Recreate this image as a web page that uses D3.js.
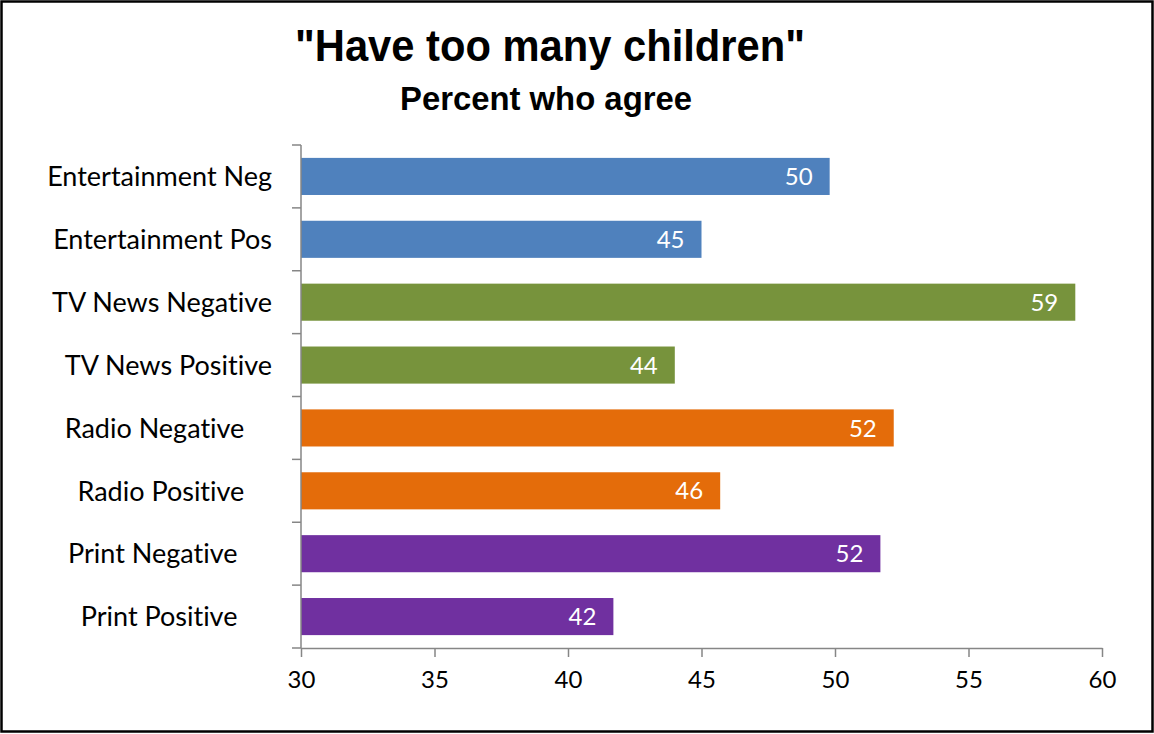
<!DOCTYPE html>
<html><head><meta charset="utf-8">
<script src="https://cdn.jsdelivr.net/npm/d3@7"></script>
<style>
html,body{margin:0;padding:0;background:#fff;}
svg{display:block;}
text{font-variant-ligatures:none;}
</style></head>
<body>
<svg id="chart" width="1154" height="734"></svg>
<script>
const categories = ["Entertainment Neg","Entertainment Pos","TV News Negative","TV News Positive","Radio Negative","Radio Positive","Print Negative","Print Positive"];
const labelPadding = ["","","","","    ","    ","     ","     "];
const values = [49.8, 45.0, 59.0, 44.0, 52.2, 45.7, 51.7, 41.7];
const valueLabels = ["50","45","59","44","52","46","52","42"];
const groups = ["Entertainment","Entertainment","TV News","TV News","Radio","Radio","Print","Print"];
const groupColors = {"Entertainment":"#4F81BD","TV News":"#77933C","Radio":"#E46C0A","Print":"#7030A0"};
const xTicks = [30,35,40,45,50,55,60];
const title = "\"Have too many children\"";
const subtitle = "Percent who agree";

const svg = d3.select("#chart");
const W = 1154, H = 734;
const m = {left:301, right:1102, top:145, bottom:648};

svg.append("rect").attr("x",1.5).attr("y",1.5).attr("width",W-3).attr("height",H-4)
  .attr("fill","#fff").attr("stroke","#000").attr("stroke-width",2.5);

const narrow = "'Liberation Sans Narrow','Arial Narrow','Liberation Sans',sans-serif";
const bodyFont = "Lato, 'Open Sans', sans-serif";

svg.append("text").attr("x",550).attr("y",61).attr("text-anchor","middle")
  .attr("font-family",narrow).attr("font-weight","bold").attr("font-size",45)
  .attr("textLength",510).attr("lengthAdjust","spacingAndGlyphs").attr("fill","#000").text(title);
svg.append("text").attr("x",546).attr("y",110).attr("text-anchor","middle")
  .attr("font-family",narrow).attr("font-weight","bold").attr("font-size",33)
  .attr("textLength",292).attr("lengthAdjust","spacingAndGlyphs").attr("fill","#000").text(subtitle);

const x = d3.scaleLinear().domain([30,60]).range([m.left,m.right]);
const y = d3.scaleBand().domain(categories).range([m.top,m.bottom]).paddingInner(0.41).paddingOuter(0.205);

// bars
svg.append("g").selectAll("rect").data(categories).join("rect")
  .attr("x",x(30)).attr("y",d=>y(d))
  .attr("width",(d,i)=>x(values[i])-x(30)).attr("height",y.bandwidth())
  .attr("fill",(d,i)=>groupColors[groups[i]]);

// value labels
svg.append("g").selectAll("text").data(categories).join("text")
  .attr("x",(d,i)=>x(values[i])-17).attr("y",d=>y(d)+y.bandwidth()/2)
  .attr("dy","0.36em").attr("text-anchor","end")
  .attr("font-family",bodyFont).attr("font-size",24).attr("fill","#fff")
  .text((d,i)=>valueLabels[i]);

// y axis
const yAxisG = svg.append("g").attr("transform",`translate(${m.left},0)`);
yAxisG.append("line").attr("x1",0).attr("x2",0).attr("y1",m.top).attr("y2",m.bottom).attr("stroke","#868686").attr("stroke-width",1.5);
const bounds = d3.range(categories.length+1).map(i=>m.top + (m.bottom-m.top)*i/categories.length);
yAxisG.selectAll("line.tick").data(bounds).join("line").attr("class","tick")
  .attr("x1",-9).attr("x2",0).attr("y1",d=>d).attr("y2",d=>d).attr("stroke","#868686").attr("stroke-width",1.5);
svg.append("g").selectAll("text").data(categories).join("text")
  .attr("x",272).attr("y",d=>y(d)+y.bandwidth()/2).attr("dy","0.36em")
  .attr("text-anchor","end").attr("xml:space","preserve").style("white-space","pre")
  .attr("font-family",bodyFont).attr("font-size",27).attr("fill","#000")
  .text((d,i)=>d+labelPadding[i]);

// x axis
const xAxisG = svg.append("g").attr("transform",`translate(0,${m.bottom})`);
const xAxis = d3.axisBottom(x).tickValues(xTicks).tickSize(9).tickSizeOuter(0).tickPadding(14);
xAxisG.call(xAxis);
xAxisG.select(".domain").attr("stroke","#868686").attr("stroke-width",1.5);
xAxisG.selectAll(".tick line").attr("stroke","#868686").attr("stroke-width",1.5);
xAxisG.selectAll(".tick text").attr("font-family",bodyFont).attr("font-size",24).attr("fill","#000");
</script>
</body></html>
